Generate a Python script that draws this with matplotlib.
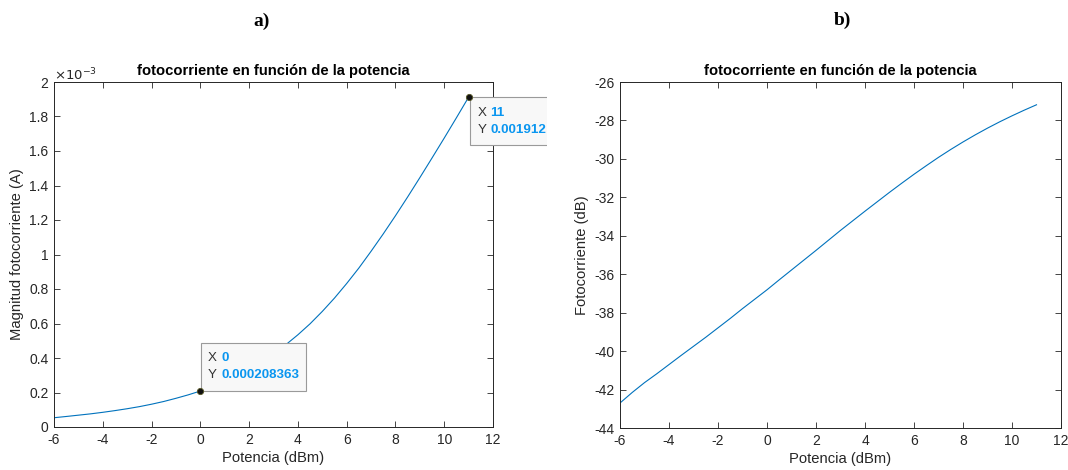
import numpy as np
import matplotlib
matplotlib.use('Agg')
import matplotlib.pyplot as plt
import matplotlib.transforms as mtransforms
from matplotlib.patches import Rectangle
from matplotlib.ticker import FuncFormatter

plt.rcParams['font.family'] = ['Liberation Sans', 'DejaVu Sans']
plt.rcParams['axes.unicode_minus'] = False

# potencia optica (dBm) y fotocorriente leida de la grafica b) (dB)
potencia = [-6, -5.5, -5, -4.5, -4, -3.5, -3, -2.5, -2, -1.5, -1, -0.5, 0,
            0.5, 1, 1.5, 2, 2.5, 3, 3.5, 4, 4.5, 5, 5.5, 6, 6.5, 7, 7.5,
            8, 8.5, 9, 9.5, 10, 10.5, 11]
fotocorriente_db = [-42.70, -42.15, -41.64, -41.18, -40.70, -40.22, -39.75,
                    -39.28, -38.79, -38.30, -37.79, -37.30, -36.81, -36.29,
                    -35.78, -35.27, -34.76, -34.24, -33.72, -33.22, -32.72,
                    -32.23, -31.74, -31.265, -30.80, -30.355, -29.92, -29.51,
                    -29.12, -28.75, -28.40, -28.07, -27.76, -27.465, -27.185]
# magnitud en amperios (misma medida, en escala lineal)
fotocorriente_a = [10 ** (v / 10) for v in fotocorriente_db]

tip_x = [0, 11]
tip_y = [0.000208363, 0.001912]
tip_txt = ['0.000208363', '0.001912']

LINE = '#0072BD'
AXC = '#262626'
TIPBLUE = '#0a96f0'

fig = plt.figure(figsize=(10.68, 4.70), dpi=100)
W, H = 1068, 470


def px_axes(x0, x1, ytop, ybot):
    return fig.add_axes([x0 / W, (H - ybot) / H, (x1 - x0) / W, (ybot - ytop) / H])


def style(ax):
    for s in ax.spines.values():
        s.set_color(AXC)
        s.set_linewidth(0.7)
    ax.tick_params(direction='in', length=4.5, width=0.6, colors=AXC,
                   labelsize=10, top=True, right=True, pad=4)
    ax.set_xlim(-6, 12)
    ax.set_xticks(range(-6, 13, 2))
    ax.set_title('fotocorriente en función de la potencia', fontsize=10.6,
                 fontweight='bold', color='black', pad=5)
    ax.set_xlabel('Potencia (dBm)', fontsize=10.6, color=AXC, labelpad=3)


# ---- a) ----
ax1 = px_axes(54, 493, 82, 427)
style(ax1)
ax1.plot(potencia, fotocorriente_a, color=LINE, lw=0.8)
ax1.set_ylim(0, 2e-3)
ax1.set_yticks(np.arange(0, 2.01e-3, 0.2e-3))
ax1.yaxis.set_major_formatter(FuncFormatter(lambda v, p: f'{v * 1e3:.1f}'.rstrip('0').rstrip('.')))
ax1.set_ylabel('Magnitud fotocorriente (A)', fontsize=10.6, color=AXC, labelpad=4)
ax1.text(0.0, 0.995, r'$\times10^{-3}$', transform=ax1.transAxes, fontsize=9.5,
         color=AXC, ha='left', va='bottom')

clip = mtransforms.TransformedBbox(mtransforms.Bbox([[0, 0], [547 / W, 1]]),
                                   fig.transFigure)

# (box dx, box dy, w, h, X text dy, Y text dy, label dx, value dx)
tips = [(1, 0, 105, 48, 33, 16, 7, 21),
        (1, -48, 110, 48, -16, -33, 9, 22)]
for (xv, yv, txt, t) in zip(tip_x, tip_y, tip_txt, tips):
    bx, by, bw, bh, ty1, ty2, lx, vx = t
    base = mtransforms.ScaledTranslation(xv, yv, ax1.transData)
    tr = lambda dx, dy: mtransforms.Affine2D().translate(dx, dy) + base
    r = Rectangle((0, 0), bw, bh, transform=tr(bx, by), facecolor='#f8f8f8',
                  edgecolor='#9a9a9a', lw=0.8, zorder=5)
    fig.add_artist(r)
    r.set_clip_path(None)
    r.set_clip_box(clip)
    for (lab, val, dy) in [('X', str(xv), ty1), ('Y', txt, ty2)]:
        a = fig.text(0, 0, lab, transform=tr(lx, dy), fontsize=9.6, color='#333333',
                     ha='left', va='center', zorder=7)
        b = fig.text(0, 0, val, transform=tr(vx, dy), fontsize=9.6, color=TIPBLUE,
                     fontweight='bold', ha='left', va='center', zorder=7)
        for t_ in (a, b):
            t_.set_clip_on(True)
            t_.set_clip_box(clip)

# puntos del datatip encima de los cuadros
for xv, yv in zip(tip_x, tip_y):
    fig.add_artist(plt.Line2D([xv], [yv], marker='o', ms=4.5, mfc='#111111',
                              mec='#555522', mew=0.6, ls='none',
                              transform=ax1.transData, zorder=8))

# ---- b) ----
ax2 = px_axes(620, 1061, 82, 428)
style(ax2)
ax2.plot(potencia, fotocorriente_db, color=LINE, lw=0.8)
ax2.set_ylim(-44, -26)
ax2.set_yticks(range(-44, -25, 2))
ax2.set_ylabel('Fotocorriente (dB)', fontsize=10.6, color=AXC, labelpad=4)

fig.text(262 / W, 1 - 21 / H, 'a)', family='Liberation Serif', fontsize=14,
         fontweight='bold', ha='center', va='center')
fig.text(842 / W, 1 - 20 / H, 'b)', family='Liberation Serif', fontsize=14,
         fontweight='bold', ha='center', va='center')

fig.savefig('out.png', dpi=100)
